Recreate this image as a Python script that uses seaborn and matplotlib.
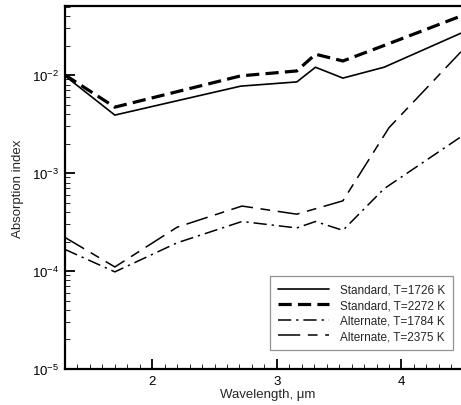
import numpy as np
import pandas as pd
import matplotlib
matplotlib.use("Agg")
import matplotlib.pyplot as plt
import matplotlib.ticker as mticker
import seaborn as sns

# --- data ---
std1726_x = [1.30, 1.70, 2.71, 3.16, 3.31, 3.53, 3.86, 4.50]
std1726_y = [0.0098, 0.0039, 0.0077, 0.0085, 0.0120, 0.0093, 0.0120, 0.0275]

std2272_x = [1.30, 1.70, 2.71, 3.16, 3.31, 3.53, 3.86, 4.50]
std2272_y = [0.0100, 0.0047, 0.0098, 0.0110, 0.0163, 0.0139, 0.0200, 0.0410]

alt1784_x = [1.30, 1.70, 2.20, 2.72, 3.16, 3.31, 3.53, 3.86, 4.50]
alt1784_y = [1.66e-4, 9.8e-5, 1.94e-4, 3.2e-4, 2.75e-4, 3.2e-4, 2.6e-4, 6.9e-4, 2.45e-3]

alt2375_x = [1.30, 1.70, 2.20, 2.72, 3.16, 3.53, 3.90, 4.50]
alt2375_y = [2.2e-4, 1.1e-4, 2.8e-4, 4.6e-4, 3.8e-4, 5.2e-4, 2.9e-3, 0.0185]

labels = ["Standard, T=1726 K", "Standard, T=2272 K",
          "Alternate, T=1784 K", "Alternate, T=2375 K"]

sns.set_style("ticks")
plt.rcParams["font.family"] = ["Liberation Sans", "DejaVu Sans"]
plt.rcParams["lines.scale_dashes"] = False

W, H = 461, 406
fig = plt.figure(figsize=(W / 100, H / 100), dpi=100)
x0, x1, y0, y1 = 65, 470, 7, 370
ax = fig.add_axes([x0 / W, 1 - y1 / H, (x1 - x0) / W, (y1 - y0) / H])

series = [
    (std1726_x, std1726_y, dict(lw=1.2, linestyle="-")),
    (std2272_x, std2272_y, dict(lw=2.3, linestyle=(0, (9.5, 4.5)))),
    (alt1784_x, alt1784_y, dict(lw=1.1, linestyle=(0, (9.5, 3.6, 1.6, 3.6)))),
    (alt2375_x, alt2375_y, dict(lw=1.1, linestyle=(0, (16, 5.5, 7, 5.5)))),
]
for (xs, ys, style), lab in zip(series, labels):
    df = pd.DataFrame({"x": xs, "y": ys})
    sns.lineplot(data=df, x="x", y="y", ax=ax, color="black", label=lab,
                 solid_joinstyle="miter", dash_joinstyle="miter", **style)

ax.set_yscale("log")
ax.set_xlim(1.3, 4.55)
ax.set_ylim(1e-5, 0.0506)

ax.xaxis.set_major_locator(mticker.MultipleLocator(1))
ax.xaxis.set_minor_locator(mticker.MultipleLocator(0.1))
ax.yaxis.set_major_locator(mticker.LogLocator(base=10, numticks=10))
ax.yaxis.set_minor_locator(mticker.LogLocator(base=10, subs=np.arange(2, 10), numticks=20))
ax.yaxis.set_minor_formatter(mticker.NullFormatter())

ax.tick_params(which="major", direction="in", length=7, width=1.3,
               labelsize=9.5, colors="black", pad=4)
ax.tick_params(which="minor", direction="in", length=3.5, width=0.7)
ax.tick_params(axis="x", top=False)
ax.tick_params(axis="y", right=False)

for side in ["left", "bottom", "top"]:
    ax.spines[side].set_visible(True)
    ax.spines[side].set_linewidth(1.6)
    ax.spines[side].set_color("black")
ax.spines["right"].set_visible(False)

ax.set_xlabel("Wavelength, μm", fontsize=9.5, labelpad=1)
ax.set_ylabel("Absorption index", fontsize=9.5, labelpad=6)

leg = ax.legend(loc="lower right", bbox_to_anchor=((453 - x0) / (x1 - x0), (370 - 351) / (y1 - y0)),
                fontsize=8.5, handlelength=4.4, handletextpad=0.9, labelspacing=0.3,
                borderpad=0.65, frameon=True, fancybox=False, borderaxespad=0)
leg.get_frame().set_edgecolor("#777777")
leg.get_frame().set_linewidth(0.9)

fig.savefig("out.png", dpi=100)
